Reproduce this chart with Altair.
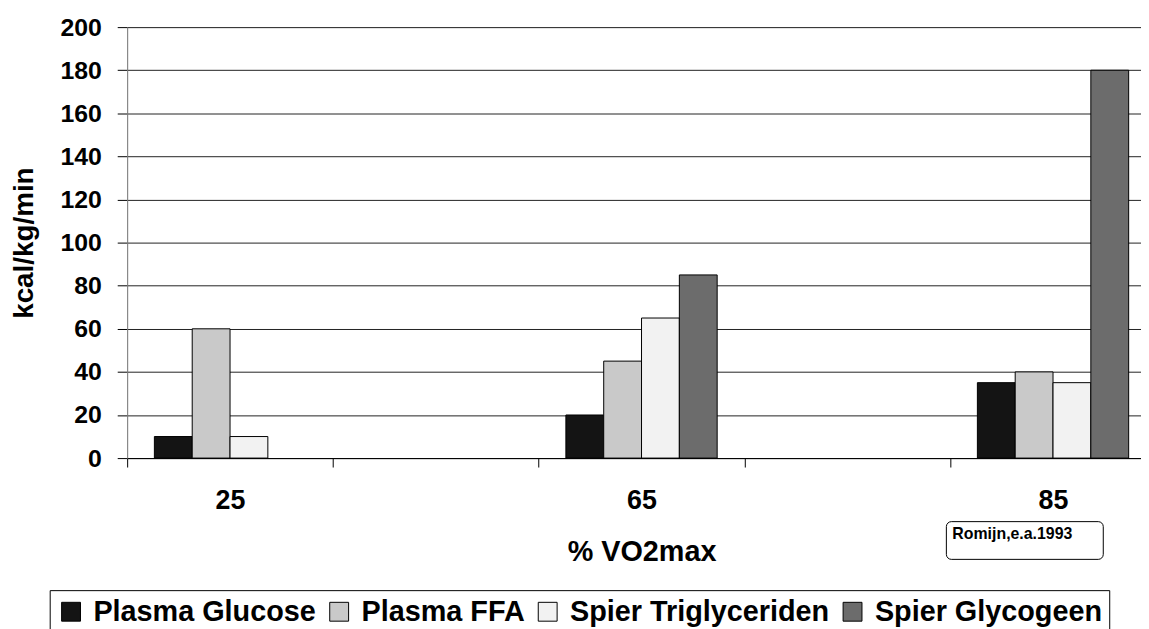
import altair as alt
import pandas as pd

# ---- data ----
x_categories = ["25", " ", "65", "  ", "85"]   # five category slots, two of them empty
groups = ["25", "65", "85"]
series = ["Plasma Glucose", "Plasma FFA", "Spier Triglyceriden", "Spier Glycogeen"]
plasma_glucose = [10, 20, 35]
plasma_ffa = [60, 45, 40]
spier_triglyceriden = [10, 65, 35]
spier_glycogeen = [None, 85, 180]
y_ticks = [0, 20, 40, 60, 80, 100, 120, 140, 160, 180, 200]
note_text = ["Romijn,e.a.1993"]

# ---- styling ----
fills = ["#141414", "#c9c9c9", "#f2f2f2", "#6c6c6c"]
FONT = "Liberation Sans"

rows = []
for name, vals in zip(series, [plasma_glucose, plasma_ffa, spier_triglyceriden, spier_glycogeen]):
    for g, v in zip(groups, vals):
        if v is not None:
            rows.append({"vo2": g, "series": name, "value": v})
df = pd.DataFrame(rows)

bars = alt.Chart(df).mark_bar(stroke="black", strokeWidth=1).encode(
    x=alt.X(
        "vo2:N",
        sort=x_categories,
        scale=alt.Scale(domain=x_categories, range=[0, 1036], paddingInner=0, paddingOuter=0),
        axis=alt.Axis(
            title="% VO2max", labelAngle=0, tickBand="extent", grid=False,
            domainColor="black", tickColor="black", tickSize=9,
            labelFont=FONT, labelFontSize=27, labelFontWeight="bold", labelColor="black",
            labelPadding=21,
            titleFont=FONT, titleFontSize=29, titleFontWeight="bold", titleColor="black",
            titlePadding=24,
        ),
    ),
    xOffset=alt.XOffset(
        "series:N",
        scale=alt.Scale(domain=series, paddingInner=0, paddingOuter=0.72),
    ),
    y=alt.Y(
        "value:Q",
        scale=alt.Scale(domain=[0, 200], nice=False),
        axis=alt.Axis(
            values=y_ticks, title="kcal/kg/min", grid=True, gridColor="#222222", gridWidth=1,
            domainColor="#7a7a7a", tickColor="black", tickSize=10,
            labelFont=FONT, labelFontSize=25, labelFontWeight="bold", labelColor="black",
            labelPadding=16,
            titleFont=FONT, titleFontSize=28, titleFontWeight="bold", titleColor="black",
            titlePadding=22,
        ),
    ),
    color=alt.Color(
        "series:N",
        title=None,
        scale=alt.Scale(domain=series, range=fills),
        legend=alt.Legend(
            orient="none", legendX=-78, legendY=567, direction="horizontal", columns=4,
            symbolType="square", symbolSize=361, symbolStrokeColor="black", symbolStrokeWidth=1,
            labelFont=FONT, labelFontSize=29, labelFontWeight="bold", labelColor="black",
            labelLimit=0, labelOffset=8, columnPadding=8, padding=7,
            strokeColor="black", fillColor="white",
        ),
    ),
)

note_df = pd.DataFrame({"t": note_text})
box = alt.Chart(note_df).mark_rect(fill="white", stroke="black", strokeWidth=1, cornerRadius=5).encode(
    x=alt.value(825), x2=alt.value(983), y=alt.value(498), y2=alt.value(536)
)
note = alt.Chart(note_df).mark_text(
    align="left", baseline="alphabetic", font=FONT, fontSize=16, fontWeight="bold", color="black"
).encode(x=alt.value(831), y=alt.value(515), text="t:N")

chart = alt.layer(bars, box, note).properties(
    width=1021,
    height=434,
    autosize=alt.AutoSizeParams(type="none"),
    padding={"left": 120, "top": 17, "right": 0, "bottom": 190},
    background="white",
).configure_view(stroke=None).configure(font=FONT)

chart.save("out.html", embed_options={"renderer": "svg", "actions": False})
